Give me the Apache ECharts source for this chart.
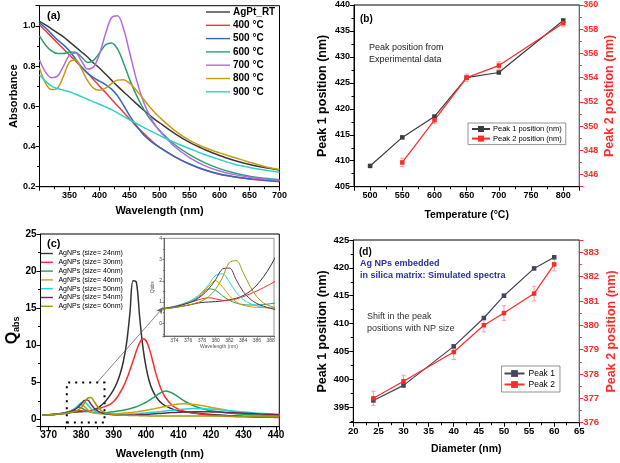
<!DOCTYPE html>
<html><head><meta charset="utf-8">
<script src="https://cdn.jsdelivr.net/npm/echarts@6.0.0/dist/echarts.min.js"></script>
<style>html,body{margin:0;padding:0;background:#fff}#c{width:620px;height:463px}</style>
</head><body><div id="c"></div>
<script>
// ---------- Panel (a): UV-Vis absorbance ----------
const wlA = [300,310,320,330,340,350,360,370,380,390,400,410,420,430,440,450,460,470,480,490,500,525,550,575,600,625,650,675,700];
const namesA = ['AgPt_RT','400 °C','500 °C','600 °C','700 °C','800 °C','900 °C'];
const absRT  = [1.022,1.005,0.985,0.965,0.945,0.92,0.895,0.87,0.845,0.815,0.79,0.76,0.73,0.70,0.672,0.645,0.617,0.59,0.565,0.54,0.518,0.465,0.42,0.385,0.355,0.33,0.31,0.295,0.283];
const abs400 = [1.005,0.975,0.945,0.915,0.885,0.855,0.825,0.795,0.765,0.733,0.70,0.668,0.635,0.602,0.57,0.538,0.505,0.475,0.447,0.42,0.397,0.35,0.312,0.283,0.262,0.248,0.238,0.231,0.224];
const abs500 = [1.015,0.99,0.96,0.93,0.905,0.875,0.835,0.795,0.765,0.742,0.725,0.708,0.685,0.652,0.605,0.555,0.51,0.47,0.44,0.415,0.395,0.35,0.313,0.284,0.263,0.249,0.239,0.233,0.229];
const abs600 = [0.95,0.905,0.875,0.862,0.862,0.87,0.868,0.845,0.818,0.828,0.865,0.905,0.915,0.885,0.815,0.735,0.665,0.605,0.555,0.515,0.48,0.41,0.36,0.32,0.29,0.268,0.252,0.242,0.235];
const abs700 = [0.83,0.77,0.742,0.75,0.80,0.855,0.865,0.825,0.785,0.795,0.86,0.96,1.04,1.05,0.985,0.87,0.75,0.65,0.575,0.52,0.478,0.40,0.345,0.305,0.278,0.26,0.247,0.238,0.232];
const abs800 = [0.79,0.715,0.683,0.69,0.75,0.82,0.83,0.785,0.728,0.69,0.68,0.69,0.713,0.73,0.732,0.715,0.685,0.648,0.61,0.575,0.545,0.48,0.43,0.395,0.368,0.345,0.322,0.30,0.285];
const abs900 = [0.755,0.725,0.70,0.688,0.68,0.672,0.66,0.648,0.635,0.622,0.61,0.597,0.583,0.567,0.55,0.533,0.517,0.50,0.485,0.47,0.455,0.42,0.39,0.36,0.335,0.312,0.296,0.283,0.272];
const colorsA = ['#3a3a3a','#ee3b3b','#2e6cc0','#2f9e6e','#b36be0','#c99a16','#2fd3c5'];

// ---------- Panel (b): experimental peak positions ----------
const tempB1 = [500,550,600,650,700,800];
const peak1B = [409,414.5,418.5,426,427,437];
const err1B  = [0.2,0.2,0.3,0.2,0.2,0.4];
const tempB2 = [550,600,650,700,800];
const peak2B = [347,350.5,354,355,358.5];
const err2B  = [0.35,0.3,0.3,0.3,0.3];

// ---------- Panel (c): simulated Qabs spectra ----------
const wlC = [368,370,372,374,376,377,378,379,380,381,382,383,384,385,386,387,388,389,390,391,392,393,394,395,396,397,398,399,400,401,402,403,404,405,406,408,410,412,415,418,420,425,430,435,441];
const namesC = ['AgNPs (size= 24nm)','AgNPs (size= 30nm)','AgNPs (size= 40nm)','AgNPs (size= 46nm)','AgNPs (size= 50nm)','AgNPs (size= 54nm)','AgNPs (size= 60nm)'];
const q24 = [0.55,0.6,0.66,0.74,0.85,0.92,0.98,1.0,1.02,1.05,1.1,1.18,1.3,1.5,1.8,2.2,2.7,3.3,4.0,4.9,6.1,7.8,10.3,14.2,18.7,18.5,13.9,9.8,7.0,5.1,3.9,3.1,2.5,2.1,1.8,1.4,1.15,1.0,0.85,0.72,0.65,0.52,0.42,0.35,0.3];
const q30 = [0.55,0.6,0.67,0.77,0.95,1.05,1.15,1.2,1.15,1.08,1.08,1.15,1.25,1.38,1.52,1.68,1.85,2.05,2.4,2.9,3.6,4.4,5.4,6.6,7.9,9.2,10.3,10.85,10.6,9.5,7.9,6.2,4.8,3.7,2.9,1.9,1.35,1.05,0.8,0.62,0.55,0.42,0.34,0.28,0.24];
const q40 = [0.55,0.6,0.67,0.78,0.97,1.12,1.35,1.62,1.55,1.3,1.08,0.95,0.88,0.86,0.86,0.88,0.92,0.97,1.02,1.08,1.15,1.23,1.32,1.42,1.55,1.7,1.88,2.08,2.3,2.55,2.85,3.15,3.45,3.7,3.8,3.55,3.0,2.4,1.75,1.35,1.15,0.85,0.68,0.58,0.5];
const q46 = [0.55,0.6,0.67,0.79,1.0,1.18,1.42,1.75,2.0,1.72,1.3,1.0,0.85,0.78,0.75,0.73,0.72,0.72,0.73,0.75,0.78,0.82,0.86,0.9,0.95,1.0,1.07,1.14,1.22,1.3,1.38,1.47,1.56,1.65,1.74,1.9,2.05,2.1,2.0,1.78,1.6,1.2,0.9,0.72,0.58];
const q50 = [0.55,0.6,0.67,0.79,1.0,1.18,1.45,1.82,2.25,2.33,1.95,1.45,1.12,0.93,0.82,0.76,0.72,0.7,0.68,0.67,0.67,0.68,0.69,0.71,0.73,0.76,0.79,0.82,0.86,0.9,0.94,0.98,1.02,1.07,1.12,1.22,1.32,1.4,1.45,1.43,1.38,1.18,0.98,0.8,0.65];
const q54 = [0.55,0.6,0.67,0.78,0.95,1.08,1.3,1.62,2.05,2.55,2.6,2.05,1.5,1.15,0.93,0.8,0.7,0.63,0.6,0.58,0.57,0.56,0.56,0.57,0.58,0.6,0.62,0.64,0.66,0.69,0.72,0.75,0.78,0.81,0.84,0.9,0.95,0.99,1.02,1.02,1.0,0.93,0.83,0.72,0.62];
const q60 = [0.55,0.6,0.66,0.74,0.86,0.94,1.05,1.25,1.6,2.15,2.85,2.95,2.4,1.75,1.25,0.95,0.8,0.7,0.64,0.6,0.57,0.55,0.53,0.52,0.51,0.5,0.49,0.48,0.47,0.46,0.46,0.45,0.45,0.45,0.45,0.44,0.44,0.44,0.44,0.44,0.44,0.43,0.42,0.4,0.38];
const colorsC = ['#333333','#ff2a2a','#20a060','#d4a010','#20d8d8','#6b2a55','#9a9a10'];
const zoomBoxC = [[375.6,-0.45],[387.2,4.95]];
const arrowC = [[385,5],[405.3,15.1]];

// ---------- Panel (d): simulated peak positions ----------
const diamD = [24,30,40,46,50,56,60];
const peak1D = [396.2,398.9,405.9,411,415,419.9,421.9];
const err1D  = [0.3,0.3,0.3,0.3,0.3,0.3,0.3];
const peak2D = [377.0,377.7,378.9,380.0,380.5,381.3,382.5];
const err2D  = [0.29,0.25,0.31,0.27,0.3,0.3,0.27];

const FONT = '"Liberation Sans", Arial, Helvetica, sans-serif';
const RED = '#ff2a2a';
// thin horizontal bar icons (invisible moveTo points fix the bounding box)
const ICON_A = 'path://M0,0M24,10M0,4.3L24,4.3L24,5.7L0,5.7Z';
const ICON_C = 'path://M0,0M17,10M0,4L17,4L17,6L0,6Z';

function fmt(step, dec, lo, hi){
  return function(v){
    const r = v/step;
    if (Math.abs(r-Math.round(r))>1e-6) return '';
    if (v < lo-1e-9 || v > hi+1e-9) return '';
    return v.toFixed(dec);
  };
}
function mkAxis(o){
  const col = o.color || '#000';
  const a = {
    type:'value', gridIndex:o.grid, min:o.min, max:o.max,
    name:o.name, nameLocation:'middle', nameGap:o.nameGap,
    nameTextStyle:Object.assign({fontFamily:FONT,fontWeight:'bold',fontSize:o.nameSize||11,color:col}, o.nameStyle||{}),
    axisLine:{show:true,onZero:false,lineStyle:{color:col,width:1}},
    axisTick:{show:true,inside:false,length:o.tickLen||4,lineStyle:{color:col,width:1}},
    minorTick:{show:o.minor!==false,splitNumber:2,length:o.minorLen||2.5,lineStyle:{color:col,width:1}},
    splitLine:{show:false}, minorSplitLine:{show:false},
    axisLabel:{show:true,fontFamily:FONT,fontSize:o.labelSize||9,fontWeight:o.labelWeight||'bold',color:o.labelColor||col,margin:o.margin||4,formatter:o.formatter,hideOverlap:false},
    axisPointer:{show:false}
  };
  if (o.position) a.position = o.position;
  if (o.interval != null) a.interval = o.interval;
  if (o.splitNumber != null) a.splitNumber = o.splitNumber;
  if (o.z != null) a.z = o.z;
  return a;
}
function lineSeries(name, xs, ys, color, xi, yi, width, z){
  return {type:'line', name:name, xAxisIndex:xi, yAxisIndex:yi,
    data: xs.map((x,i)=>[x, ys[i]]), smooth:0.35, symbol:'none',
    lineStyle:{width:width,color:color}, itemStyle:{color:color}, z:z, silent:true, clip:true};
}
function pointSeries(name, xs, ys, color, xi, yi){
  return {type:'line', name:name, xAxisIndex:xi, yAxisIndex:yi,
    data: xs.map((x,i)=>[x, ys[i]]), symbol:'rect', symbolSize:4.5, showSymbol:true,
    lineStyle:{width:1.2,color:color}, itemStyle:{color:color}, z:4, silent:true};
}
function errSeries(xs, ys, es, color, xi, yi){
  return {type:'custom', name:'err', xAxisIndex:xi, yAxisIndex:yi, silent:true, z:3,
    data: xs.map((x,i)=>[x, ys[i], es[i]]), encode:{x:0,y:1},
    renderItem:function(params, api){
      const x=api.value(0), y=api.value(1), e=api.value(2);
      const p1=api.coord([x,y+e]), p2=api.coord([x,y-e]);
      const w=2.2, st={stroke:color,lineWidth:1};
      return {type:'group', children:[
        {type:'line', shape:{x1:p1[0],y1:p1[1],x2:p2[0],y2:p2[1]}, style:st},
        {type:'line', shape:{x1:p1[0]-w,y1:p1[1],x2:p1[0]+w,y2:p1[1]}, style:st},
        {type:'line', shape:{x1:p2[0]-w,y1:p2[1],x2:p2[0]+w,y2:p2[1]}, style:st}
      ]};
    }};
}

const seriesA = [absRT,abs400,abs500,abs600,abs700,abs800,abs900].map((ys,i)=>lineSeries(namesA[i], wlA, ys, colorsA[i], 0, 0, 1.5, 2));
const qC = [q24,q30,q40,q46,q50,q54,q60];
const seriesC = qC.map((ys,i)=>lineSeries(namesC[i], wlC, ys, colorsC[i], 2, 3, 1.5, 2));
seriesC[6].markArea = {silent:true, itemStyle:{color:'rgba(0,0,0,0)', borderColor:'#000', borderWidth:2, borderType:[2,5]},
  data:[[{coord:zoomBoxC[0]},{coord:zoomBoxC[1]}]]};
seriesC[6].markLine = {silent:true, symbol:['none','arrow'], symbolSize:[5,7], label:{show:false},
  lineStyle:{color:'#666', width:0.8, type:'solid'}, emphasis:{disabled:true},
  data:[[{coord:arrowC[0]},{coord:arrowC[1]}]]};
const seriesInset = qC.map((ys,i)=>lineSeries(namesC[i], wlC, ys, colorsC[i], 3, 4, 1, 12));

const option = {
  animation:false,
  backgroundColor:'#fff',
  textStyle:{fontFamily:FONT},
  grid:[
    {left:39.5, top:5.7, width:240, height:181, show:true, borderColor:'#000', borderWidth:1, containLabel:false},
    {left:354, top:5, width:225.3, height:181.7, show:true, borderColor:'#000', borderWidth:1, containLabel:false},
    {left:40.5, top:234, width:238.8, height:192.7, show:true, borderColor:'#000', borderWidth:1, containLabel:false},
    {left:164, top:238.3, width:110, height:97.7, show:true, backgroundColor:'#fff', borderColor:'#777', borderWidth:0.8, z:10, containLabel:false},
    {left:353.3, top:240, width:226, height:182.7, show:true, borderColor:'#000', borderWidth:1, containLabel:false}
  ],
  xAxis:[
    mkAxis({grid:0, min:300, max:700, interval:50, name:'Wavelength (nm)', nameGap:19, formatter:fmt(50,0,350,700)}),
    mkAxis({grid:1, min:475, max:825, splitNumber:8, name:'Temperature (°C)', nameGap:23, nameSize:10.5, formatter:fmt(50,0,500,800)}),
    mkAxis({grid:2, min:367.5, max:441, splitNumber:8, name:'Wavelength (nm)', nameGap:22, labelSize:10, formatter:fmt(10,0,370,440)}),
    mkAxis({grid:3, min:372.5, max:388.5, splitNumber:8, name:'Wavelength (nm)', nameGap:7, nameSize:5, nameStyle:{fontWeight:'normal',color:'#555'},
      labelSize:5, labelWeight:'normal', labelColor:'#444', color:'#666', margin:2, tickLen:1.5, minorLen:1, formatter:fmt(2,0,374,388), z:11}),
    mkAxis({grid:4, min:20, max:65, interval:5, name:'Diameter (nm)', nameGap:21, nameSize:10.5, labelSize:9.5, formatter:fmt(5,0,20,65)})
  ],
  yAxis:[
    mkAxis({grid:0, min:0.2, max:1.1, interval:0.2, name:'Absorbance', nameGap:19, formatter:fmt(0.2,1,0.2,1.0)}),
    mkAxis({grid:1, min:405, max:440, interval:5, name:'Peak 1 position (nm)', nameGap:25, nameSize:12.5, formatter:fmt(5,0,405,440)}),
    mkAxis({grid:1, min:345, max:360, splitNumber:8, position:'right', color:RED, name:'Peak 2 position (nm)', nameGap:24, nameSize:12.5, formatter:fmt(2,0,346,360)}),
    mkAxis({grid:2, min:-1, max:25, splitNumber:6, name:'{q|Q}{s|abs}', nameGap:18, labelSize:10, formatter:fmt(5,0,0,25),
      nameStyle:{rich:{q:{fontSize:16,fontWeight:'bold',fontFamily:FONT,color:'#000'}, s:{fontSize:9,fontWeight:'bold',fontFamily:FONT,color:'#000',padding:[9,0,0,0]}}}}),
    mkAxis({grid:3, min:-0.6, max:4, splitNumber:5, name:'Qabs', nameGap:7, nameSize:5, nameStyle:{fontWeight:'normal',color:'#555'},
      labelSize:5, labelWeight:'normal', labelColor:'#444', color:'#666', margin:2, tickLen:1.5, minorLen:1, formatter:fmt(1,0,0,4), z:11}),
    mkAxis({grid:4, min:392.2, max:425, splitNumber:7, name:'Peak 1 position (nm)', nameGap:24, nameSize:12.5, labelSize:9.5, formatter:fmt(5,0,395,425)}),
    mkAxis({grid:4, min:376, max:383.5, interval:1, position:'right', color:RED, name:'Peak 2 position (nm)', nameGap:26, nameSize:12.5, labelSize:9.5, formatter:fmt(1,0,376,383)})
  ],
  legend:[
    {data:namesA.map(n=>({name:n, icon:ICON_A})), orient:'vertical', left:206, top:7, padding:0, itemWidth:24, itemHeight:10, itemGap:3.3,
      textStyle:{fontFamily:FONT,fontSize:10,fontWeight:'bold',color:'#000',padding:[0,0,0,-2]}},
    {data:['Peak 1 position (nm)','Peak 2 position (nm)'], orient:'vertical', left:468, top:123, padding:[2,4,2,3],
      borderColor:'#777', borderWidth:0.8, itemWidth:18, itemHeight:7.5, itemGap:1.6,
      textStyle:{fontFamily:FONT,fontSize:7.5,color:'#000',padding:[0,0,0,-2]}},
    {data:namesC.map(n=>({name:n, icon:ICON_C})), orient:'vertical', left:41, top:250, padding:0, itemWidth:17, itemHeight:7, itemGap:1.8,
      textStyle:{fontFamily:FONT,fontSize:7,color:'#000',padding:[0,0,0,-2]}},
    {data:['Peak 1','Peak 2'], orient:'vertical', left:501.5, top:366, padding:[3,5,3,2],
      borderColor:'#777', borderWidth:0.8, itemWidth:20, itemHeight:8.5, itemGap:2,
      textStyle:{fontFamily:FONT,fontSize:8.5,color:'#000',padding:[0,0,0,-1]}}
  ],
  graphic:[
    {type:'text', x:47, y:16, style:{text:'(a)', font:'bold 11px '+FONT, fill:'#000', verticalAlign:'middle'}},
    {type:'text', x:360, y:19, style:{text:'(b)', font:'bold 10px '+FONT, fill:'#000', verticalAlign:'middle'}},
    {type:'text', x:369, y:54, style:{text:'Peak position from\nExperimental data', font:'9px '+FONT, fill:'#222', lineHeight:12, verticalAlign:'middle'}},
    {type:'text', x:47, y:243.5, style:{text:'(c)', font:'bold 11px '+FONT, fill:'#000', verticalAlign:'middle'}},
    {type:'text', x:359, y:252.7, style:{text:'(d)', font:'bold 10px '+FONT, fill:'#000', verticalAlign:'middle'}},
    {type:'text', x:360, y:269.3, style:{text:'Ag NPs embedded\nin silica matrix: Simulated spectra', font:'bold 9px '+FONT, fill:'#2b2fa8', lineHeight:12.4, verticalAlign:'middle'}},
    {type:'text', x:367, y:322.3, style:{text:'Shift in the peak\npositions with NP size', font:'9px '+FONT, fill:'#333', lineHeight:12, verticalAlign:'middle'}}
  ],
  series: [].concat(
    seriesA,
    [errSeries(tempB1, peak1B, err1B, '#bbbbbb', 1, 1),
     errSeries(tempB2, peak2B, err2B, '#f5a0a0', 1, 2),
     pointSeries('Peak 1 position (nm)', tempB1, peak1B, '#3c3c3c', 1, 1),
     pointSeries('Peak 2 position (nm)', tempB2, peak2B, RED, 1, 2)],
    seriesC,
    seriesInset,
    [errSeries(diamD, peak1D, err1D, '#cccccc', 4, 5),
     errSeries(diamD, peak2D, err2D, '#f5a0a0', 4, 6),
     pointSeries('Peak 1', diamD, peak1D, '#44445a', 4, 5),
     pointSeries('Peak 2', diamD, peak2D, RED, 4, 6)]
  )
};
const chart = echarts.init(document.getElementById('c'), null, {renderer:'canvas'});
chart.setOption(option);
</script></body></html>
